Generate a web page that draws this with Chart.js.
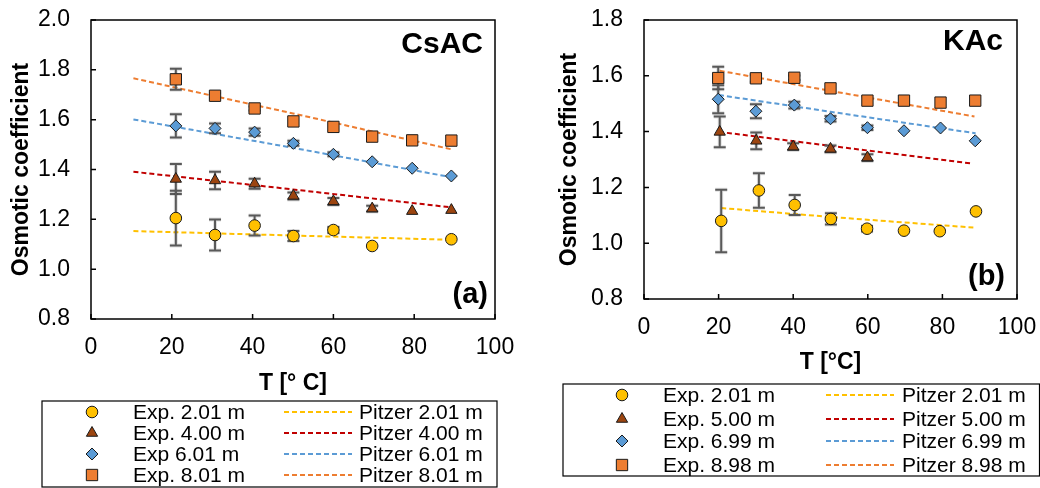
<!DOCTYPE html>
<html>
<head>
<meta charset="utf-8">
<title>Osmotic coefficients</title>
<script src="https://cdn.jsdelivr.net/npm/chart.js@4.4.1/dist/chart.umd.min.js"></script>
<style>
  body { margin: 0; background: #fff; }
  .panel { position: absolute; top: 0; width: 520px; height: 488px; }
</style>
</head>
<body>
<div class="panel" style="left:0"><canvas id="csac-chart" width="520" height="488"></canvas></div>
<div class="panel" style="left:520px"><canvas id="kac-chart" width="520" height="488"></canvas></div>
<script>
// ---- CsAc (a) ----
const csacTemp = [21, 30.7, 40.5, 50.1, 60, 69.6, 79.5, 89.2];
const csacExp201 = [1.205, 1.137, 1.175, 1.133, 1.157, 1.093, null, 1.120];
const csacErr201 = [0.11, 0.062, 0.04, 0.02, 0.012, 0, 0, 0];
const csacExp400 = [1.362, 1.356, 1.343, 1.294, 1.272, 1.243, 1.233, 1.237];
const csacErr400 = [0.06, 0.035, 0.02, 0.014, 0.014, 0.012, 0, 0];
const csacExp601 = [1.575, 1.565, 1.550, 1.505, 1.461, 1.431, 1.405, 1.374];
const csacErr601 = [0.047, 0.02, 0.015, 0.01, 0.008, 0, 0, 0];
const csacExp801 = [1.762, 1.696, 1.645, 1.593, 1.571, 1.532, 1.517, 1.516];
const csacErr801 = [0.042, 0.01, 0.008, 0, 0, 0, 0, 0];

const csacPitzerTemp = [10.5, 50, 89.2];
const csacPitzer201 = [1.153, 1.135, 1.118];
const csacPitzer400 = [1.391, 1.320, 1.248];
const csacPitzer601 = [1.601, 1.487, 1.369];
const csacPitzer801 = [1.766, 1.625, 1.481];

// ---- KAc (b) ----
const kacTemp = [19.9, 30.0, 40.3, 50.0, 59.9, 69.7, 79.5, 88.8];
const kacTemp201 = [20.7, 30.8, 40.4, 50.1, 59.8, 69.7, 79.3, 89.0];
const kacTemp500 = [20.3, 30.1, 40.0, 50.0, 59.9];
const kacExp201 = [1.080, 1.189, 1.137, 1.087, 1.052, 1.045, 1.043, 1.114];
const kacErr201 = [0.112, 0.062, 0.036, 0.02, 0.01, 0, 0, 0];
const kacExp500 = [1.399, 1.367, 1.346, 1.338, 1.307];
const kacErr500 = [0.055, 0.03, 0.012, 0.012, 0.012];
const kacExp699 = [1.516, 1.473, 1.495, 1.446, 1.414, 1.403, 1.413, 1.367];
const kacErr699 = [0.05, 0.025, 0.012, 0.01, 0.008, 0, 0, 0];
const kacExp898 = [1.592, 1.591, 1.593, 1.555, 1.511, 1.511, 1.504, 1.511];
const kacErr898 = [0.04, 0.012, 0.008, 0, 0, 0, 0, 0];

const kacPitzerTemp201 = [20.7, 50, 88.3];
const kacPitzer201 = [1.126, 1.094, 1.056];
const kacPitzerTemp500 = [20.1, 50, 87.6];
const kacPitzer500 = [1.399, 1.349, 1.286];
const kacPitzerTemp699 = [20.1, 50, 88.9];
const kacPitzer699 = [1.531, 1.471, 1.394];
const kacPitzerTemp898 = [20.3, 50, 88.6];
const kacPitzer898 = [1.618, 1.546, 1.454];

const colors = {
    yellow: '#FFC000',
    brown: '#9C4510',
    red: '#C00000',
    blue: '#5B9BD5',
    orange: '#ED7D31',
    edge: '#1a1a1a',
    errorBar: '#595959'
};

Chart.defaults.font.family = "'Liberation Sans', Arial, sans-serif";
Chart.defaults.color = '#000';

function points(xs, ys, errs) {
    const out = [];
    xs.forEach((x, i) => {
        if (ys[i] === null) return;
        out.push({ x: x, y: ys[i], err: errs ? errs[i] : 0 });
    });
    return out;
}

const markerSize = { circle: 5.8, triangle: 6.5, rectRot: 6, rect: 8 };

function expSet(label, xs, ys, errs, shape, fill) {
    return {
        label: label,
        data: points(xs, ys, errs),
        showLine: false,
        pointStyle: shape,
        pointRadius: markerSize[shape],
        pointBackgroundColor: fill,
        pointBorderColor: colors.edge,
        pointBorderWidth: 1,
        order: 0
    };
}

function pitzerSet(label, xs, ys, color) {
    return {
        label: label,
        data: points(xs, ys),
        showLine: true,
        borderColor: color,
        borderWidth: 2,
        borderDash: [5, 3],
        pointRadius: 0,
        fill: false,
        order: 1
    };
}

// marker shapes, sized the same way as the chart's own point styles
function drawMarker(ctx, shape, x, y, r, fill) {
    ctx.save();
    ctx.fillStyle = fill;
    ctx.strokeStyle = colors.edge;
    ctx.lineWidth = 1;
    ctx.beginPath();
    if (shape === 'circle') {
        ctx.arc(x, y, r, 0, Math.PI * 2);
    } else if (shape === 'triangle') {
        for (let k = 0; k < 3; k++) {
            const a = k * 2 * Math.PI / 3;
            const px = x + Math.sin(a) * r, py = y - Math.cos(a) * r;
            k ? ctx.lineTo(px, py) : ctx.moveTo(px, py);
        }
        ctx.closePath();
    } else if (shape === 'rectRot') {
        ctx.moveTo(x - r, y); ctx.lineTo(x, y - r);
        ctx.lineTo(x + r, y); ctx.lineTo(x, y + r);
        ctx.closePath();
    } else {
        const s = Math.SQRT1_2 * r;
        ctx.rect(x - s, y - s, 2 * s, 2 * s);
    }
    ctx.fill();
    ctx.stroke();
    ctx.restore();
}

// error bars go under each experimental series
const errorBars = {
    id: 'errorBars',
    beforeDatasetDraw(chart, args) {
        const ds = chart.data.datasets[args.index];
        if (ds.showLine) return;
        const ctx = chart.ctx, y = chart.scales.y;
        ctx.save();
        args.meta.data.forEach((el, i) => {
            const d = ds.data[i];
            if (!d.err) return;
            const top = y.getPixelForValue(d.y + d.err);
            const bottom = y.getPixelForValue(d.y - d.err);
            const x = el.x;
            ctx.lineCap = 'butt';
            [['rgba(0,0,0,0.12)', 4], [colors.errorBar, 2]].forEach(([c, w]) => {
                ctx.strokeStyle = c;
                ctx.lineWidth = w;
                ctx.beginPath();
                ctx.moveTo(x, top); ctx.lineTo(x, bottom);
                ctx.moveTo(x - 6, top); ctx.lineTo(x + 6, top);
                ctx.moveTo(x - 6, bottom); ctx.lineTo(x + 6, bottom);
                ctx.stroke();
            });
        });
        ctx.restore();
    }
};

// plot frame, inward tick marks, corner labels and the boxed legend
const frame = {
    id: 'frame',
    afterDraw(chart, args, opts) {
        const ctx = chart.ctx, area = chart.chartArea;
        const xs = chart.scales.x, ys = chart.scales.y;
        ctx.save();
        ctx.strokeStyle = '#000';
        ctx.lineWidth = 1.5;
        ctx.strokeRect(area.left, area.top, area.right - area.left, area.bottom - area.top);
        ctx.beginPath();
        ys.ticks.forEach(t => {
            const py = ys.getPixelForValue(t.value);
            ctx.moveTo(area.left, py); ctx.lineTo(area.left + 5, py);
        });
        xs.ticks.forEach(t => {
            const px = xs.getPixelForValue(t.value);
            ctx.moveTo(px, area.bottom); ctx.lineTo(px, area.bottom - 5);
        });
        ctx.stroke();

        ctx.fillStyle = '#000';
        ctx.textAlign = 'right';
        ctx.textBaseline = 'middle';
        ctx.font = "bold 30px 'Liberation Sans', Arial, sans-serif";
        ctx.fillText(opts.name, opts.nameX, opts.nameY);
        ctx.font = "bold 29px 'Liberation Sans', Arial, sans-serif";
        ctx.fillText(opts.tag, opts.tagX, opts.tagY);

        const L = opts.legend;
        ctx.lineWidth = 1.2;
        ctx.strokeRect(L.left, L.top, L.right - L.left, L.bottom - L.top);
        ctx.font = "21px 'Liberation Sans', Arial, sans-serif";
        ctx.textAlign = 'left';
        const sets = chart.data.datasets;
        L.rowY.forEach((ry, r) => {
            const exp = sets[r], pit = sets[r + 4];
            drawMarker(ctx, exp.pointStyle, L.markerX, ry, exp.pointRadius, exp.pointBackgroundColor);
            ctx.fillStyle = '#000';
            ctx.fillText(exp.label, L.expX, ry + 1);
            ctx.save();
            ctx.strokeStyle = pit.borderColor;
            ctx.lineWidth = 2;
            ctx.setLineDash([5, 3]);
            ctx.beginPath();
            ctx.moveTo(L.lineX1, ry); ctx.lineTo(L.lineX2, ry);
            ctx.stroke();
            ctx.restore();
            ctx.fillText(pit.label, L.pitzerX, ry + 1);
        });
        ctx.restore();
    }
};

function makeChart(canvas, datasets, cfg) {
    return new Chart(canvas, {
        type: 'scatter',
        data: { datasets: datasets },
        options: {
            responsive: false,
            animation: false,
            layout: { padding: cfg.padding },
            plugins: {
                legend: { display: false },
                tooltip: { enabled: false },
                frame: cfg.frame
            },
            scales: {
                x: {
                    type: 'linear',
                    min: 0,
                    max: 100,
                    ticks: { stepSize: 20, padding: 15, color: '#000', font: { size: 23 } },
                    grid: { display: false, drawTicks: false },
                    border: { display: false },
                    title: {
                        display: true,
                        text: cfg.xTitle,
                        color: '#000',
                        font: { size: 23, weight: 'bold' },
                        padding: { top: 0, bottom: cfg.xTitlePad }
                    },
                    afterFit: s => {
                        s.height = 80;
                        s.paddingLeft = 0;
                        s.paddingRight = 0;
                    }
                },
                y: {
                    min: 0.8,
                    max: cfg.yMax,
                    ticks: {
                        stepSize: 0.2,
                        padding: 21,
                        color: '#000',
                        font: { size: 23 },
                        callback: v => v.toFixed(1)
                    },
                    grid: { display: false, drawTicks: false },
                    border: { display: false },
                    title: {
                        display: true,
                        text: 'Osmotic coefficient',
                        color: '#000',
                        font: { size: 23, weight: 'bold' },
                        padding: { top: cfg.yTitlePad, bottom: 0 }
                    },
                    afterFit: s => {
                        s.width = cfg.yWidth;
                        s.paddingTop = 0;
                        s.paddingBottom = 0;
                    }
                }
            }
        },
        plugins: [errorBars, frame]
    });
}

let csacChart = document.getElementById('csac-chart');
if (csacChart) {
    makeChart(csacChart, [
        expSet('Exp. 2.01 m', csacTemp, csacExp201, csacErr201, 'circle', colors.yellow),
        expSet('Exp. 4.00 m', csacTemp, csacExp400, csacErr400, 'triangle', colors.brown),
        expSet('Exp 6.01 m', csacTemp, csacExp601, csacErr601, 'rectRot', colors.blue),
        expSet('Exp. 8.01 m', csacTemp, csacExp801, csacErr801, 'rect', colors.orange),
        pitzerSet('Pitzer 2.01 m', csacPitzerTemp, csacPitzer201, colors.yellow),
        pitzerSet('Pitzer 4.00 m', csacPitzerTemp, csacPitzer400, colors.red),
        pitzerSet('Pitzer 6.01 m', csacPitzerTemp, csacPitzer601, colors.blue),
        pitzerSet('Pitzer 8.01 m', csacPitzerTemp, csacPitzer801, colors.orange)
    ], {
        padding: { top: 20, right: 25, bottom: 89, left: 0 },
        yMax: 2.0,
        yWidth: 91,
        yTitlePad: 8,
        xTitle: 'T [° C]',
        xTitlePad: 2,
        frame: {
            name: 'CsAC', nameX: 483, nameY: 45,
            tag: '(a)', tagX: 488, tagY: 295,
            legend: {
                left: 42, top: 401, right: 497, bottom: 487,
                rowY: [412, 433, 454, 475],
                markerX: 92, expX: 133, lineX1: 284, lineX2: 352, pitzerX: 359
            }
        }
    });
}

let kacChart = document.getElementById('kac-chart');
if (kacChart) {
    makeChart(kacChart, [
        expSet('Exp. 2.01 m', kacTemp201, kacExp201, kacErr201, 'circle', colors.yellow),
        expSet('Exp. 5.00 m', kacTemp500, kacExp500, kacErr500, 'triangle', colors.brown),
        expSet('Exp. 6.99 m', kacTemp, kacExp699, kacErr699, 'rectRot', colors.blue),
        expSet('Exp. 8.98 m', kacTemp, kacExp898, kacErr898, 'rect', colors.orange),
        pitzerSet('Pitzer 2.01 m', kacPitzerTemp201, kacPitzer201, colors.yellow),
        pitzerSet('Pitzer 5.00 m', kacPitzerTemp500, kacPitzer500, colors.red),
        pitzerSet('Pitzer 6.99 m', kacPitzerTemp699, kacPitzer699, colors.blue),
        pitzerSet('Pitzer 8.98 m', kacPitzerTemp898, kacPitzer898, colors.orange)
    ], {
        padding: { top: 20, right: 23, bottom: 109, left: 0 },
        yMax: 1.8,
        yWidth: 124,
        yTitlePad: 36,
        xTitle: 'T [°C]',
        xTitlePad: 3,
        frame: {
            name: 'KAc', nameX: 483, nameY: 42,
            tag: '(b)', tagX: 485, tagY: 277,
            legend: {
                left: 43, top: 384, right: 519.5, bottom: 476,
                rowY: [395, 419, 441, 465],
                markerX: 102, expX: 143, lineX1: 306, lineX2: 374, pitzerX: 382
            }
        }
    });
}
</script>
</body>
</html>
